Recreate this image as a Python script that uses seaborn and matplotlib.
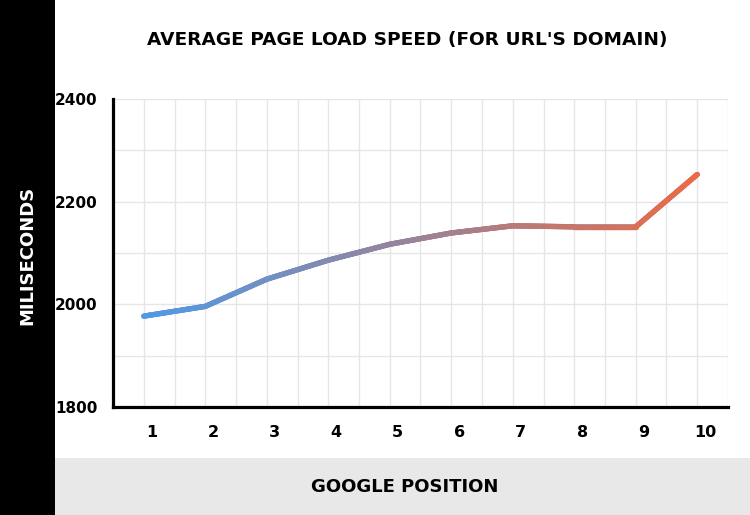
import numpy as np
import pandas as pd
import seaborn as sns
import matplotlib
matplotlib.use("Agg")
import matplotlib.pyplot as plt
from matplotlib.collections import LineCollection
from matplotlib.patches import Rectangle
from matplotlib.colors import to_rgb
import matplotlib.transforms as mtransforms

positions = [1, 2, 3, 4, 5, 6, 7, 8, 9, 10]
load_ms = [1977, 1996, 2049, 2086, 2117, 2139, 2153, 2151, 2151, 2253]
x_tick_labels = [str(p) for p in positions]
y_ticks = [1800, 2000, 2200, 2400]

title = "AVERAGE PAGE LOAD SPEED (FOR URL'S DOMAIN)"
x_label = "GOOGLE POSITION"
y_label = "MILISECONDS"

start_color = "#4d9be8"
end_color = "#ec6a44"

sns.set_theme(style="white")
plt.rcParams['font.family'] = ['DejaVu Sans']

fig = plt.figure(figsize=(7.5, 5.15), dpi=100)
fig.patch.set_facecolor("white")
# background bands
fig.patches.append(Rectangle((0, 0), 55/750, 1, transform=fig.transFigure,
                             facecolor="black", edgecolor="none", zorder=0))
fig.patches.append(Rectangle((55/750, 0), 1, 57/515, transform=fig.transFigure,
                             facecolor="#e8e8e8", edgecolor="none", zorder=0))

ax = fig.add_axes([113/750, 1 - 407/515, (728 - 113)/750, (407 - 99)/515])
ax.set_facecolor("none")

df = pd.DataFrame({"position": positions, "ms": load_ms})
sns.lineplot(data=df, x="position", y="ms", ax=ax, color="#9b8299",
             linewidth=3.8, zorder=2)

# gradient overlay along the same data path
xs, ys = [], []
n_sub = 40
for i in range(len(positions) - 1):
    t = np.linspace(0, 1, n_sub, endpoint=False)
    xs.extend(positions[i] + t * (positions[i + 1] - positions[i]))
    ys.extend(load_ms[i] + t * (load_ms[i + 1] - load_ms[i]))
xs.append(positions[-1]); ys.append(load_ms[-1])
xs = np.array(xs); ys = np.array(ys)
pts = np.column_stack([xs, ys]).reshape(-1, 1, 2)
segs = np.concatenate([pts[:-1], pts[1:]], axis=1)
c0 = np.array(to_rgb(start_color)); c1 = np.array(to_rgb(end_color))
frac = (xs[:-1] - positions[0]) / (positions[-1] - positions[0])
cols = c0[None, :] * (1 - frac[:, None]) + c1[None, :] * frac[:, None]
lc = LineCollection(segs, colors=cols, linewidths=3.8, capstyle="round",
                    joinstyle="round", zorder=3)
ax.add_collection(lc)

ax.set_xlim(0.5, 10.5)
ax.set_ylim(1800, 2400)
ax.set_xticks(positions)
ax.set_xticklabels(x_tick_labels)
ax.set_xticks(np.arange(0.5, 10.51, 1.0), minor=True)
ax.set_yticks(y_ticks)
ax.set_yticks(np.arange(1900, 2401, 200), minor=True)
ax.grid(which="both", color="#e6e6e6", linewidth=1, zorder=0)
ax.set_axisbelow(True)

for s in ["top", "right"]:
    ax.spines[s].set_visible(False)
for s in ["left", "bottom"]:
    ax.spines[s].set_color("black")
    ax.spines[s].set_linewidth(2.3)
    ax.spines[s].set_zorder(4)

ax.tick_params(axis="both", which="both", length=0)
ax.tick_params(axis="x", pad=13, labelsize=11.5)
ax.tick_params(axis="y", pad=11, labelsize=11)
for lab in ax.get_xticklabels() + ax.get_yticklabels():
    lab.set_fontweight("bold")
    lab.set_color("black")
offset = mtransforms.ScaledTranslation(8/100, 0, fig.dpi_scale_trans)
for lab in ax.get_xticklabels():
    lab.set_transform(lab.get_transform() + offset)

ax.set_xlabel("")
ax.set_ylabel("")

fig.text(407/750, 1 - 40/515, title, ha="center", va="center",
         fontsize=13.3, fontweight="bold", color="black")
fig.text(405/750, 1 - 487/515, x_label, ha="center", va="center",
         fontsize=13, fontweight="bold", color="black")
fig.text(27/750, 1 - 255/515, y_label, ha="center", va="center",
         rotation=90, fontsize=13, fontweight="bold", color="white")

fig.savefig("out.png", dpi=100, facecolor=fig.get_facecolor())
